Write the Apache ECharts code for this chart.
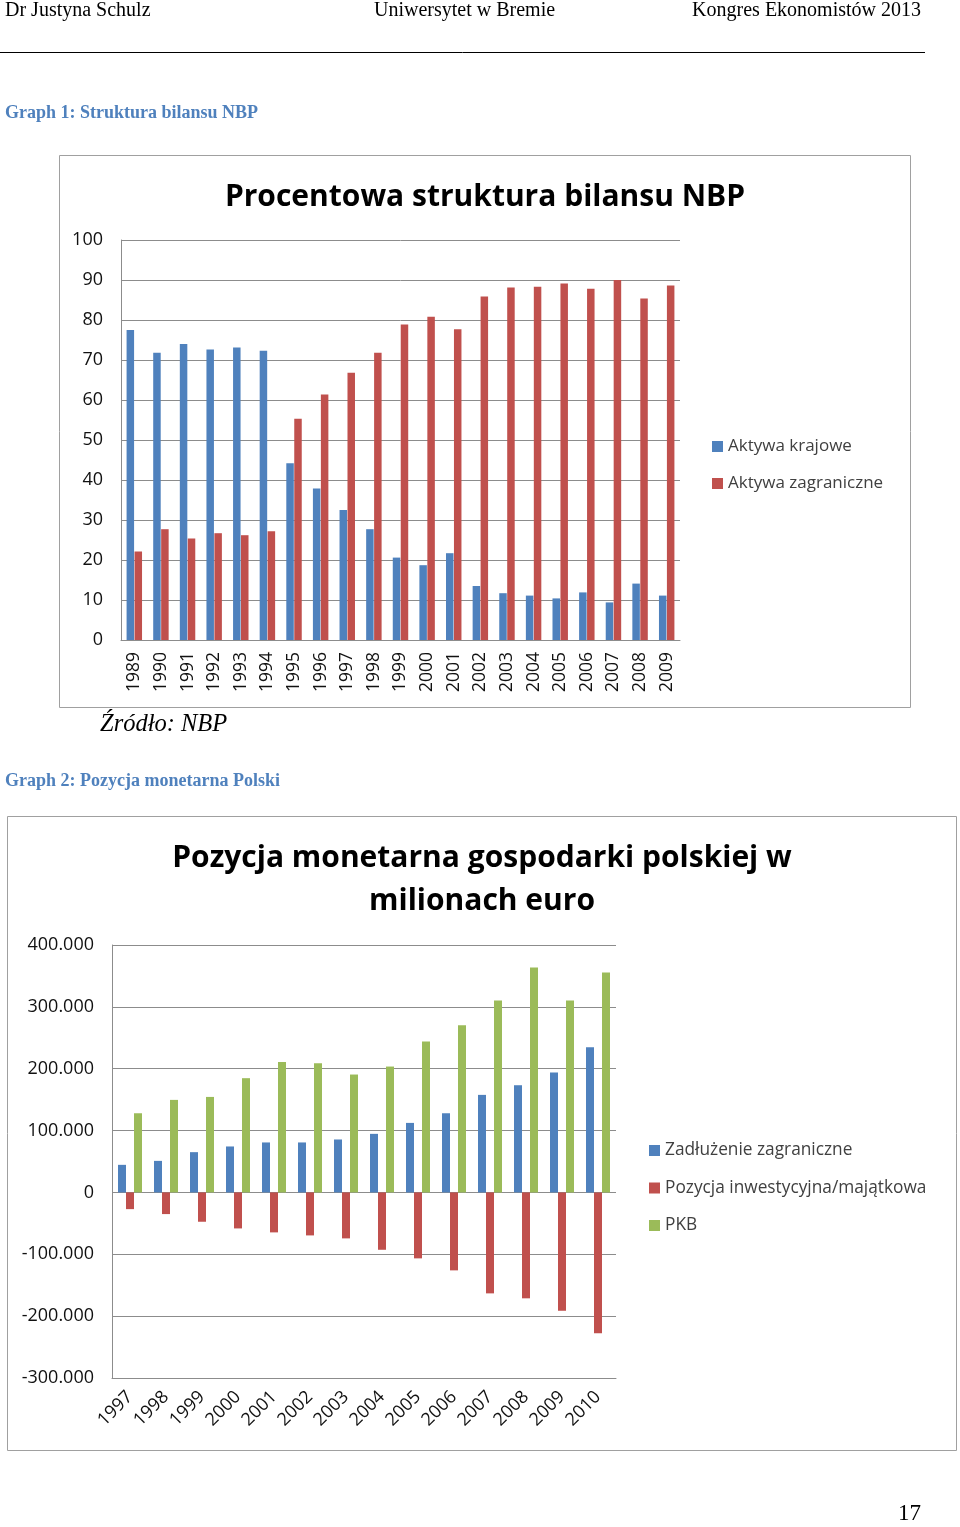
<!DOCTYPE html>
<html>
<head>
<meta charset="utf-8">
<script src="https://cdn.jsdelivr.net/npm/echarts@6/dist/echarts.min.js"></script>
<style>
html,body{margin:0;padding:0;background:#fff;}
#c{width:960px;height:1527px;}
</style>
</head>
<body>
<div id="c"></div>
<script>
// ---- Graph 1 data ----
const years1 = ['1989','1990','1991','1992','1993','1994','1995','1996','1997','1998','1999','2000','2001','2002','2003','2004','2005','2006','2007','2008','2009'];
const aktywaKrajowe = [77.5,71.8,74.0,72.6,73.1,72.3,44.2,37.9,32.5,27.7,20.6,18.7,21.7,13.5,11.7,11.1,10.4,11.9,9.4,14.1,11.1];
const aktywaZagraniczne = [22.1,27.7,25.4,26.7,26.2,27.2,55.3,61.4,66.8,71.8,78.9,80.8,77.7,85.9,88.1,88.3,89.1,87.8,90.0,85.4,88.6];

// ---- Graph 2 data ----
const years2 = ['1997','1998','1999','2000','2001','2002','2003','2004','2005','2006','2007','2008','2009','2010'];
const zadluzenie = [44600,51000,65100,74300,80800,80800,85600,94700,112400,128000,157700,173300,193900,234700];
const pozycja = [-27000,-35000,-47400,-58200,-64600,-69500,-74300,-92700,-106600,-126000,-163200,-171200,-191300,-227800];
const pkb = [128000,149600,154400,184700,211000,208900,190600,203500,243900,270300,310200,363500,310200,355400];

const BLUE = '#4F81BD', RED = '#C0504D', GREEN = '#9BBB59';
const GRIDC = '#8c8c8c';
const SANS = '"Open Sans", "Noto Sans", sans-serif';
const SERIF = '"Liberation Serif", "Times New Roman", serif';

const chart = echarts.init(document.getElementById('c'), null, {renderer: 'canvas'});

function fmt2(v){ return v === 0 ? '0' : (v/1000) + '.000'; }

const option = {
  animation: false,
  backgroundColor: '#fff',
  title: [
    {text: 'Procentowa struktura bilansu NBP', left: 480, top: 177, textAlign: 'center',
     textStyle: {fontFamily: SANS, fontWeight: 'bold', fontSize: 30, color: '#000'}},
    {text: 'Pozycja monetarna gospodarki polskiej w\nmilionach euro', left: 477, top: 832, textAlign: 'center',
     textStyle: {fontFamily: SANS, fontWeight: 'bold', fontSize: 30, color: '#000', lineHeight: 43}}
  ],
  legend: [
    {data: ['Aktywa krajowe','Aktywa zagraniczne'], orient: 'vertical', left: 712, top: 438, padding: 0,
     itemWidth: 11, itemHeight: 11, itemGap: 20, icon: 'rect',
     textStyle: {fontFamily: SANS, fontSize: 17, color: '#404040'}},
    {data: ['Zadłużenie zagraniczne','Pozycja inwestycyjna/majątkowa','PKB'], orient: 'vertical', left: 649, top: 1142, padding: 0,
     itemWidth: 11, itemHeight: 11, itemGap: 20.5, icon: 'rect',
     textStyle: {fontFamily: SANS, fontSize: 17.3, color: '#404040'}}
  ],
  grid: [
    {left: 121, top: 240, width: 559, height: 400},
    {left: 112, top: 945, width: 504, height: 433}
  ],
  xAxis: [
    {type: 'category', gridIndex: 0, data: years1,
     axisLine: {lineStyle: {color: GRIDC}}, axisTick: {show: false},
     axisLabel: {rotate: 90, margin: 12, fontFamily: SANS, fontSize: 17.5, color: '#111', interval: 0}},
    {type: 'category', gridIndex: 1, data: years2,
     axisLine: {onZero: false, lineStyle: {color: GRIDC}}, axisTick: {show: false},
     axisLabel: {rotate: 45, margin: 16, fontFamily: SANS, fontSize: 18, color: '#111', interval: 0}}
  ],
  yAxis: [
    {type: 'value', gridIndex: 0, min: 0, max: 100, interval: 10,
     axisLine: {show: true, lineStyle: {color: GRIDC}}, axisTick: {show: false},
     splitLine: {lineStyle: {color: GRIDC}},
     axisLabel: {margin: 18, fontFamily: SANS, fontSize: 18, color: '#111'}},
    {type: 'value', gridIndex: 1, min: -300000, max: 400000, interval: 100000,
     axisLine: {show: true, lineStyle: {color: GRIDC}}, axisTick: {show: false},
     splitLine: {lineStyle: {color: GRIDC}},
     axisLabel: {margin: 18, fontFamily: SANS, fontSize: 18, color: '#111', formatter: fmt2}}
  ],
  series: [
    {name: 'Aktywa krajowe', type: 'bar', xAxisIndex: 0, yAxisIndex: 0, data: aktywaKrajowe,
     barWidth: 7.5, barGap: '6%', itemStyle: {color: BLUE}},
    {name: 'Aktywa zagraniczne', type: 'bar', xAxisIndex: 0, yAxisIndex: 0, data: aktywaZagraniczne,
     barWidth: 7.5, barGap: '6%', itemStyle: {color: RED}},
    {name: 'Zadłużenie zagraniczne', type: 'bar', xAxisIndex: 1, yAxisIndex: 1, data: zadluzenie,
     barWidth: 8, barGap: '0%', itemStyle: {color: BLUE}},
    {name: 'Pozycja inwestycyjna/majątkowa', type: 'bar', xAxisIndex: 1, yAxisIndex: 1, data: pozycja,
     barWidth: 8, barGap: '0%', itemStyle: {color: RED}},
    {name: 'PKB', type: 'bar', xAxisIndex: 1, yAxisIndex: 1, data: pkb,
     barWidth: 8, barGap: '0%', itemStyle: {color: GREEN}}
  ],
  graphic: [
    {type: 'text', left: 5, top: 1, style: {text: 'Dr Justyna Schulz', font: '20px ' + SERIF, fill: '#000'}},
    {type: 'text', left: 374, top: 1, style: {text: 'Uniwersytet w Bremie', font: '20px ' + SERIF, fill: '#000'}},
    {type: 'text', right: 39, top: 1, style: {text: 'Kongres Ekonomistów 2013', font: '20px ' + SERIF, fill: '#000'}},
    {type: 'line', shape: {x1: 0, y1: 52.5, x2: 925, y2: 52.5}, style: {stroke: '#000', lineWidth: 1}},
    {type: 'text', left: 5, top: 104, style: {text: 'Graph 1: Struktura bilansu NBP', font: 'bold 18px ' + SERIF, fill: '#4F81BD'}},
    {type: 'rect', shape: {x: 59.5, y: 155.5, width: 851, height: 552}, style: {fill: 'none', stroke: '#a0a0a0', lineWidth: 1}, z: -1},
    {type: 'text', left: 100, top: 712, style: {text: 'Źródło: NBP', font: 'italic 24.5px ' + SERIF, fill: '#000'}},
    {type: 'text', left: 5, top: 772, style: {text: 'Graph 2: Pozycja monetarna Polski', font: 'bold 18px ' + SERIF, fill: '#4F81BD'}},
    {type: 'rect', shape: {x: 7.5, y: 816.5, width: 949, height: 634}, style: {fill: 'none', stroke: '#a0a0a0', lineWidth: 1}, z: -1},
    {type: 'text', right: 39, top: 1502, style: {text: '17', font: '23px ' + SERIF, fill: '#000'}}
  ]
};
chart.setOption(option);
</script>
</body>
</html>
